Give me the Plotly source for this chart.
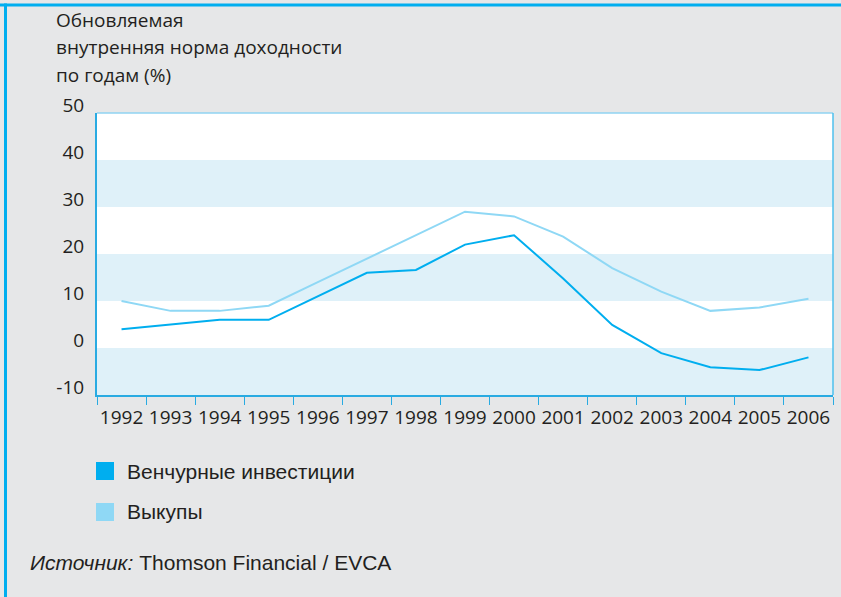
import plotly.graph_objects as go

years = ["1992", "1993", "1994", "1995", "1996", "1997", "1998", "1999",
         "2000", "2001", "2002", "2003", "2004", "2005", "2006"]
venture = [4, 5, 6, 6, 11, 16, 16.6, 22, 24, 14.8, 4.9, -1.1, -4.1, -4.7, -2]
buyouts = [10, 7.9, 7.9, 9, 14, 19, 24, 29, 28, 23.7, 17, 12, 7.9, 8.6, 10.5]
y_ticks = [-10, 0, 10, 20, 30, 40, 50]
y_tick_text = ["-10", "0", "10", "20", "30", "40", "50"]
bands = [(-10, 0), (10, 20), (30, 40)]

title_lines = ["Обновляемая", "внутренняя норма доходности", "по годам (%)"]
legend_names = ["Венчурные инвестиции", "Выкупы"]

C_VENT = "#00aeef"
C_BUY = "#8fd8f5"
C_TEXT = "#231f20"
C_BG = "#e6e7e8"
C_BAND = "#dff1f9"

W, H = 841, 597
L, R, T, B = 97, 833, 113, 395
pw, ph = R - L, B - T


def px(x):
    return (x - L) / pw


def py(y):
    return (B - y) / ph


fig = go.Figure()
fig.add_trace(go.Scatter(x=years, y=buyouts, mode="lines",
                         line=dict(color=C_BUY, width=2), name=legend_names[1],
                         showlegend=False))
fig.add_trace(go.Scatter(x=years, y=venture, mode="lines",
                         line=dict(color=C_VENT, width=2), name=legend_names[0],
                         showlegend=False))

shapes = []
for lo, hi in bands:
    shapes.append(dict(type="rect", xref="paper", yref="y", x0=0, x1=1, y0=lo, y1=hi,
                       fillcolor=C_BAND, line=dict(width=0), layer="below"))
# plot frame: top and right borders
shapes.append(dict(type="line", xref="paper", yref="paper", x0=0, x1=1, y0=1, y1=1,
                   line=dict(color="#8fd3f2", width=1.5)))
shapes.append(dict(type="line", xref="paper", yref="paper", x0=1, x1=1, y0=0, y1=1,
                   line=dict(color="#4ec0ee", width=1.5)))
# outer frame lines
shapes.append(dict(type="line", xref="paper", yref="paper", x0=px(0), x1=px(W),
                   y0=py(5), y1=py(5), line=dict(color="#00aeef", width=3)))
shapes.append(dict(type="line", xref="paper", yref="paper", x0=px(5.5), x1=px(5.5),
                   y0=py(3.5), y1=py(H), line=dict(color="#00aeef", width=3)))
# legend swatches
leg_y = [471, 512]
for i, (name, col) in enumerate(zip(legend_names, [C_VENT, C_BUY])):
    shapes.append(dict(type="rect", xref="paper", yref="paper",
                       x0=px(96), x1=px(114), y0=py(leg_y[i] - 9), y1=py(leg_y[i] + 9),
                       fillcolor=col, line=dict(width=0)))

annotations = []
for i, t in enumerate(title_lines):
    annotations.append(dict(text=t, xref="paper", yref="paper", x=px(54), y=py(20 + 27.5 * i),
                            xanchor="left", yanchor="middle", showarrow=False,
                            font=dict(family="Open Sans", size=19, color=C_TEXT)))
for i, name in enumerate(legend_names):
    annotations.append(dict(text=name, xref="paper", yref="paper", x=px(125), y=py(leg_y[i]),
                            xanchor="left", yanchor="middle", showarrow=False,
                            font=dict(family="Liberation Sans, Arial", size=21, color=C_TEXT)))
annotations.append(dict(text="<i>Источник:</i> Thomson Financial / EVCA", xref="paper",
                        yref="paper", x=px(28), y=py(562), xanchor="left", yanchor="middle",
                        showarrow=False,
                        font=dict(family="Liberation Sans, Arial", size=21, color=C_TEXT)))

fig.update_layout(
    width=W, height=H,
    margin=dict(l=L, r=W - R, t=T, b=H - B, pad=0),
    paper_bgcolor=C_BG, plot_bgcolor="white",
    shapes=shapes, annotations=annotations,
    showlegend=False,
    xaxis=dict(type="category", range=[-0.5, len(years) - 0.5], showgrid=False,
               zeroline=False, showline=True, linecolor="#29abe2", linewidth=2,
               ticks="outside", tickson="boundaries", ticklen=8, tickwidth=1.2,
               tickcolor="#29abe2", tickangle=0, ticklabelstandoff=4,
               tickfont=dict(family="Open Sans", size=19, color=C_TEXT)),
    yaxis=dict(range=[-10, 50], tickvals=y_ticks, ticktext=y_tick_text,
               showgrid=False, zeroline=False,
               showline=True, linecolor="#29abe2", linewidth=2, ticks="",
               ticklabelshift=-8, ticklabelstandoff=7,
               tickfont=dict(family="Open Sans", size=19, color=C_TEXT)),
)

fig.write_html("out.html", config={"displayModeBar": False},
               post_script="document.body.style.margin='0';document.body.style.overflow='hidden';")
